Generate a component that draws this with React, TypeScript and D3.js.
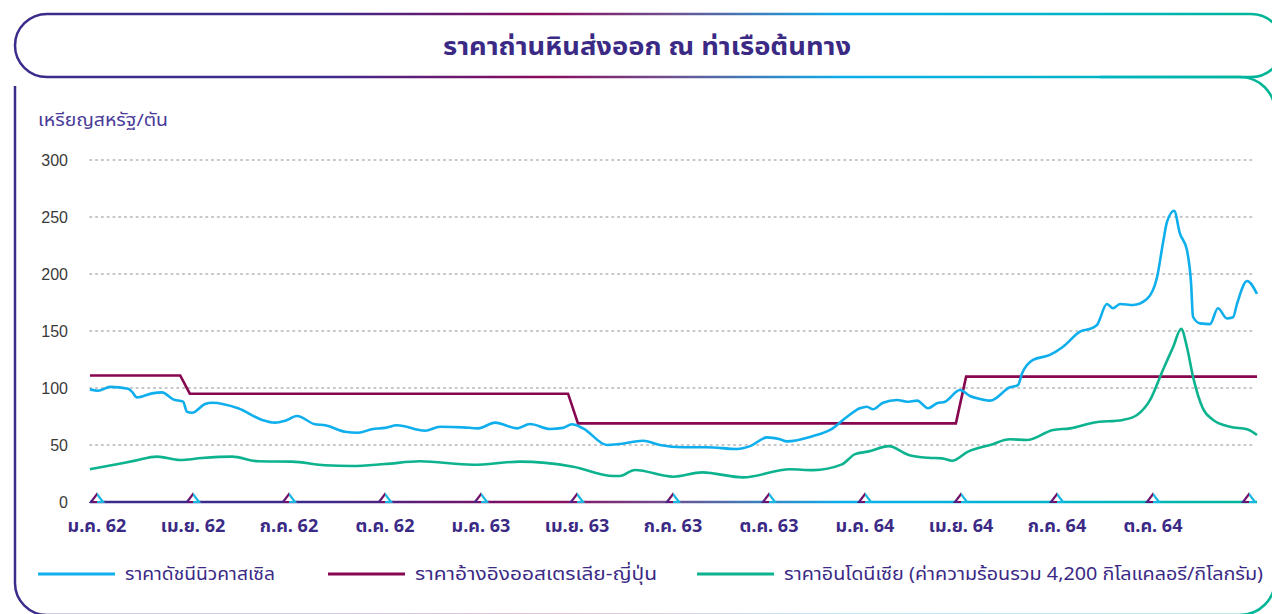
import React from "react";
import * as d3 from "d3";

// months since ม.ค. 62 (Jan 2019)
const xTickMonths = [0, 3, 6, 9, 12, 15, 18, 21, 24, 27, 30, 33, 36];
const xTickLabels = ["ม.ค. 62", "เม.ย. 62", "ก.ค. 62", "ต.ค. 62", "ม.ค. 63", "เม.ย. 63", "ก.ค. 63", "ต.ค. 63", "ม.ค. 64", "เม.ย. 64", "ก.ค. 64", "ต.ค. 64", ""];
const yTicks = [0, 50, 100, 150, 200, 250, 300];

// ราคาดัชนีนิวคาสเซิล [month, USD/t]
const newcastle: [number, number][] = [
  [-0.22, 98.8], [0.03, 97.6], [0.41, 101], [0.97, 99.4], [1.09, 96.8], [1.25, 91.8], [1.72, 95.3], [2.03, 96.2],
  [2.38, 90], [2.69, 88], [2.81, 79.2], [2.97, 78.3], [3.38, 86], [3.59, 87.1], [4.41, 82.2], [5.16, 72],
  [5.56, 69.6], [5.88, 71.3], [6.25, 75.4], [6.81, 68.2], [7.13, 67.3], [7.75, 61.7], [8.16, 60.8], [8.59, 63.8],
  [9.0, 65], [9.38, 67.3], [10.25, 62.5], [10.72, 66], [11.44, 65.5], [11.91, 64.6], [12.44, 69.6], [13.13, 64.6],
  [13.53, 68.4], [14.16, 64], [14.56, 65], [14.84, 68.2], [15.19, 64.6], [15.94, 50], [16.34, 50.9], [17.06, 53.7],
  [17.59, 50], [18.31, 48], [19.06, 48], [20.0, 46.5], [20.41, 49], [20.94, 56.7], [21.34, 55], [21.56, 53.2],
  [22.38, 57.9], [22.91, 63.2], [23.44, 74.8], [23.84, 82.2], [24.06, 83.6], [24.25, 81.3], [24.56, 87.1], [25.0, 89.5],
  [25.31, 88], [25.63, 88.9], [25.97, 82.2], [26.25, 86.6], [26.5, 88], [26.97, 98.2], [27.28, 93], [27.59, 90.4],
  [27.91, 88.9], [28.53, 100.6], [28.78, 102.6], [28.91, 112.9], [29.25, 124.6], [29.78, 129], [30.19, 136.2], [30.72, 149.4],
  [31.13, 152.9], [31.25, 155.3], [31.56, 173.7], [31.75, 169.9], [31.97, 173.7], [32.38, 172.8], [32.81, 178], [33.13, 197.6],
  [33.31, 227], [33.44, 245.9], [33.66, 255.5], [33.84, 235.7], [34.06, 221], [34.19, 191.8], [34.25, 162.5], [34.47, 156.7],
  [34.78, 156], [35.03, 169.9], [35.31, 161], [35.5, 162], [35.63, 174.3], [35.94, 193.9], [36.25, 182.5],
];

// ราคาอ้างอิงออสเตรเลีย-ญี่ปุ่น
const ausJapan: [number, number][] = [
  [-0.22, 111], [2.6, 111], [2.9, 95], [14.72, 95], [15.03, 69], [26.84, 69], [27.16, 110], [36.25, 110],
];

// ราคาอินโดนีเซีย (4,200 kcal/kg)
const indonesia: [number, number][] = [
  [-0.22, 28.7], [0.66, 33.3], [1.19, 36.3], [1.88, 39.8], [2.59, 36.8], [3.28, 38.6], [4.22, 39.8], [5.03, 35.7],
  [6.09, 35.4], [7.13, 32.2], [7.97, 31.6], [9.0, 33.3], [10.09, 35.7], [11.75, 32.7], [13.22, 35.4], [14.88, 31],
  [16.13, 22.8], [16.34, 22.8], [16.81, 28.1], [18.0, 22.2], [18.91, 26], [20.19, 21.6], [21.66, 28.7], [22.38, 28],
  [23.28, 33], [23.69, 42], [24.09, 44.2], [24.75, 49], [25.34, 41.5], [25.97, 38.8], [26.41, 38.3], [26.72, 36.2],
  [27.22, 44.2], [27.91, 50], [28.53, 55], [29.06, 54.4], [29.88, 63.2], [30.41, 64.6], [31.13, 69.6], [32.06, 72],
  [32.5, 76.3], [32.91, 89.5], [33.31, 115.8], [33.63, 136], [33.88, 152], [34.06, 136], [34.25, 110], [34.56, 82],
  [34.88, 72], [35.41, 66], [35.94, 63.8], [36.25, 58.8],
];

const legendItems = [
  { label: "ราคาดัชนีนิวคาสเซิล", color: "#0FAEEC" },
  { label: "ราคาอ้างอิงออสเตรเลีย-ญี่ปุ่น", color: "#86064F" },
  { label: "ราคาอินโดนีเซีย (ค่าความร้อนรวม 4,200 กิโลแคลอรี/กิโลกรัม)", color: "#0DB38F" },
];
const legendX = [38, 328, 697];
const legendTextLen = [150, 242, 479];

const W = 1272;
const H = 614;
const FONT = "'Noto Sans Thai', 'Noto Sans', sans-serif";
const PURPLE = "#3B2A85";

export default function App() {
  const x = d3.scaleLinear().domain([0, 36]).range([97, 1249]);
  const y = d3.scaleLinear().domain([0, 300]).range([502, 160]);
  const smooth = d3.line<[number, number]>().x((d) => x(d[0])).y((d) => y(d[1])).curve(d3.curveMonotoneX);
  const straight = d3.line<[number, number]>().x((d) => x(d[0])).y((d) => y(d[1]));
  const gx0 = x(-0.22);
  const gx1 = x(36.2);

  return (
    <svg width={W} height={H} style={{ position: "absolute", left: 0, top: 0, background: "#fff" }}>
      <defs>
        <linearGradient id="frameGrad" gradientUnits="userSpaceOnUse" x1={15} y1={0} x2={1272} y2={0}>
          <stop offset="0" stopColor="#3B2C8C" />
          <stop offset="0.25" stopColor="#3E2A8A" />
          <stop offset="0.42" stopColor="#8A0A5C" />
          <stop offset="0.52" stopColor="#6F4E8E" />
          <stop offset="0.66" stopColor="#0AAEEB" />
          <stop offset="0.85" stopColor="#00B4C6" />
          <stop offset="1" stopColor="#00B594" />
        </linearGradient>
        <linearGradient id="triGrad" x1="0" y1="0" x2="1" y2="0">
          <stop offset="0" stopColor="#4A2388" />
          <stop offset="0.35" stopColor="#7A0E62" />
          <stop offset="0.5" stopColor="#7A0E62" />
          <stop offset="0.5" stopColor="#18B6E2" />
          <stop offset="1" stopColor="#18B6E2" />
        </linearGradient>
      </defs>

      {/* frames */}
      <rect x={15} y={14} width={1268} height={63} rx={32} ry={32} fill="none" stroke="url(#frameGrad)" strokeWidth={2.5} />
      <path
        d="M15,86 V583 A32,32 0 0 0 47,615 H1240 A35,35 0 0 0 1275,580 V112 A35,35 0 0 0 1240,77 H1100"
        fill="none"
        stroke="url(#frameGrad)"
        strokeWidth={2.5}
      />

      <text x={647} y={55} textAnchor="middle" fontFamily={FONT} fontWeight={700} fontSize={25} fill={PURPLE}
        textLength={408} lengthAdjust="spacingAndGlyphs">
        ราคาถ่านหินส่งออก ณ ท่าเรือต้นทาง
      </text>

      <text x={38} y={126} fontFamily={FONT} fontSize={17} fill="#4A3A98" textLength={130} lengthAdjust="spacingAndGlyphs">
        เหรียญสหรัฐ/ตัน
      </text>

      {/* grid */}
      {yTicks.filter((t) => t > 0).map((t) => (
        <line key={t} x1={gx0} x2={gx1} y1={y(t)} y2={y(t)} stroke="#B4B4B4" strokeWidth={1.6} strokeDasharray="1.6 4.2" strokeLinecap="round" />
      ))}
      {yTicks.map((t) => (
        <text key={t} x={68} y={y(t) + 6} textAnchor="end" fontFamily="'Liberation Sans', Arial, sans-serif" fontSize={16} fill="#3A3A3A">
          {t}
        </text>
      ))}

      {/* series */}
      <path d={straight(ausJapan) || ""} fill="none" stroke="#86064F" strokeWidth={2.6} strokeLinejoin="miter" />
      <path d={smooth(indonesia) || ""} fill="none" stroke="#0DB38F" strokeWidth={2.6} />
      <path d={smooth(newcastle) || ""} fill="none" stroke="#0FAEEC" strokeWidth={2.6} />

      {/* x axis */}
      <line x1={gx0} x2={x(36.25)} y1={y(0)} y2={y(0)} stroke="url(#frameGrad)" strokeWidth={2.6} />
      {xTickMonths.map((m) => (
        <path
          key={m}
          d={`M${x(m) - 6},${y(0)} L${x(m)},${y(0) - 8} L${x(m) + 6},${y(0)} Z`}
          fill="#fff"
          stroke="url(#triGrad)"
          strokeWidth={2.2}
          strokeLinejoin="miter"
        />
      ))}
      {xTickMonths.map((m, i) => (
        <text key={m} x={x(m)} y={532} textAnchor="middle" fontFamily={FONT} fontWeight={700} fontSize={18} fill={PURPLE}>
          {xTickLabels[i]}
        </text>
      ))}

      {/* legend */}
      {legendItems.map((it, i) => {
        const lx = legendX[i];
        return (
          <g key={i}>
            <line x1={lx} x2={lx + 77} y1={574} y2={574} stroke={it.color} strokeWidth={3} />
            <text x={lx + 87} y={580} fontFamily={FONT} fontSize={18} fill={PURPLE}
              textLength={legendTextLen[i]} lengthAdjust="spacingAndGlyphs">
              {it.label}
            </text>
          </g>
        );
      })}
    </svg>
  );
}
